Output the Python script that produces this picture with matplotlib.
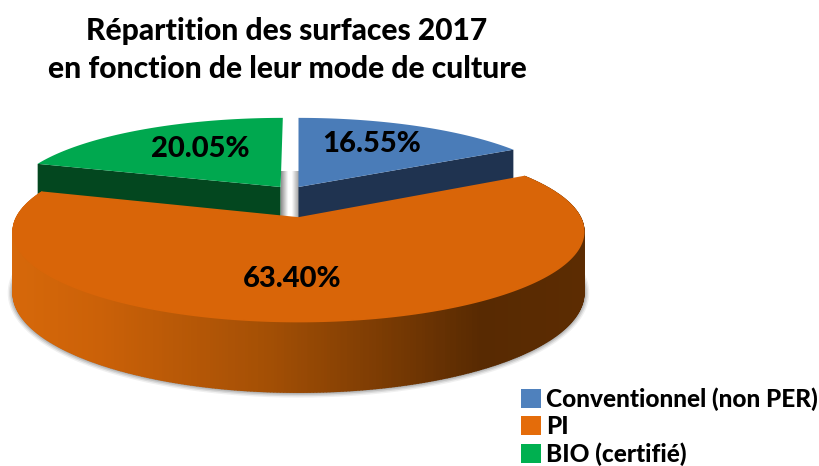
import numpy as np
import matplotlib
matplotlib.use("Agg")
import matplotlib.pyplot as plt
from matplotlib.collections import PolyCollection
from matplotlib.colors import LinearSegmentedColormap
from matplotlib.patches import Patch, Polygon

plt.rcParams['font.family'] = ['Lato', 'DejaVu Sans']

# data
categories = ["Conventionnel (non PER)", "PI", "BIO (certifié)"]
shares = [16.55, 63.40, 20.05]
title = "Répartition des surfaces 2017\nen fonction de leur mode de culture"

# colours
top_colors = ["#4A7CB8", "#D96508", "#00A84F"]
side_colors = ["#1F3350", None, "#03471F"]
legend_colors = ["#4F81BD", "#E46C0A", "#00B050"]

# pie geometry, in pixels of the picture
cx, cy = 298.5, 218
rad_x, rad_y = 282, 88
persp = 0.15
depth = 60
explode = [(0, 0.372), None, (-0.067, 0.372)]
label_pos = [(372, 144), (292, 279), (200, 149)]


def project(u, v, drop=0):
    s = 1 + persp * v
    return cx + rad_x * u / s, cy - rad_y * v / s + drop / s


def arc(t1, t2, off=(0, 0), drop=0, n=300):
    t = np.radians(np.linspace(t1, t2, n))
    return project(np.sin(t) + off[0], np.cos(t) + off[1], drop)


fig = plt.figure(figsize=(8.19, 4.66), dpi=100)
ax = fig.add_axes([0, 0, 1, 1])

bounds = np.cumsum([0] + shares) * 360 / sum(shares)

# soft shadow under the front of the pie
lo = arc(bounds[1] + 30, bounds[2] - 10, drop=depth)
for lw, alpha in zip([8, 6, 4, 2], [0.08, 0.12, 0.16, 0.22]):
    ax.plot(lo[0], lo[1], color="#404040", lw=lw, alpha=alpha, zorder=1)

# shadow seen in the gap between the pulled out slices
gap_left = project(explode[2][0], explode[2][1])[0]
gap_right = project(explode[0][0], explode[0][1])[0]
gap_top = cy - 47
gap_cmap = LinearSegmentedColormap.from_list(
    "gap", ["#8E8E8E", "#C8C8C8", "#FFFFFF", "#FFFFFF", "#D0D0D0", "#A0A0A0"])
ax.imshow(np.linspace(0, 1, 64).reshape(1, -1), cmap=gap_cmap, aspect="auto",
          extent=(gap_left, gap_right, cy + 5, gap_top), zorder=1)

# the two pulled out slices
for i in [0, 2]:
    off = explode[i]
    t1, t2 = bounds[i], bounds[i + 1]
    edge_t = t2 if i == 0 else t1
    ax0, ay0 = project(off[0], off[1])
    e = np.radians(edge_t)
    ex, ey = project(np.sin(e) + off[0], np.cos(e) + off[1])
    ax0b, ay0b = project(off[0], off[1], depth)
    exb, eyb = project(np.sin(e) + off[0], np.cos(e) + off[1], depth)
    ax.add_patch(Polygon([(ax0, ay0), (ex, ey), (exb, eyb), (ax0b, ay0b)],
                         fc=side_colors[i], ec="none", zorder=2))
    ax_, ay_ = arc(t1, t2, off)
    ax.add_patch(Polygon(np.r_[[[ax0, ay0]], np.c_[ax_, ay_]],
                         fc=top_colors[i], ec="none", zorder=3))

# the big slice: rim made of thin coloured quads, then its top
xt, yt = arc(bounds[1], bounds[2], n=400)
xb, yb = arc(bounds[1], bounds[2], drop=depth, n=400)
rim_cmap = LinearSegmentedColormap.from_list(
    "rim", [(0, "#D6680A"), (0.15, "#CB6108"), (0.45, "#A34F05"),
            (0.82, "#582A02"), (1, "#5C2C02")])
quads = [[(xt[k], yt[k]), (xt[k + 1], yt[k + 1]), (xb[k + 1], yb[k + 1]), (xb[k], yb[k])]
         for k in range(len(xt) - 1)]
quad_colors = rim_cmap((0.5 * (xt[:-1] + xt[1:]) - xt.min()) / (xt.max() - xt.min()))
ax.add_collection(PolyCollection(quads, facecolors=quad_colors, edgecolors=quad_colors,
                                 linewidths=1.2, zorder=4))
ax.add_patch(Polygon(np.r_[[[cx, cy]], np.c_[xt, yt]],
                     fc=top_colors[1], ec=top_colors[1], lw=1.2, zorder=5))

# percent labels
for share, pos in zip(shares, label_pos):
    ax.text(pos[0], pos[1], f"{share:.2f}%", fontsize=21, fontweight="black",
            ha="center", va="center", color="black", zorder=6)

ax.text(287, 50, title, fontsize=21.6, fontweight="black", ha="center", va="center",
        linespacing=1.47, color="black")

handles = [Patch(fc=c, ec="none") for c in legend_colors]
ax.legend(handles, categories, loc="upper left", bbox_to_anchor=(514 / 819, 1 - 380 / 466),
          frameon=False, prop={"size": 17.6, "weight": "black"}, handlelength=0.8,
          handleheight=0.8, handletextpad=0.2, labelspacing=0.17, borderpad=0.3,
          borderaxespad=0)

ax.set_xlim(0, 819)
ax.set_ylim(466, 0)
ax.axis("off")

fig.savefig("out.png", dpi=100)
